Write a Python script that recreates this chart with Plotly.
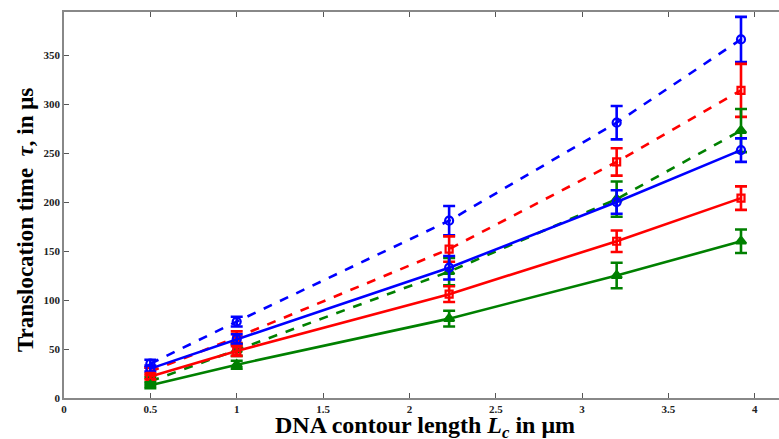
import plotly.graph_objects as go

x_vals = [0.5, 1.0, 2.23, 3.2, 3.92]

blue_dash = [35, 78, 181, 281, 366]
blue_dash_err = [4, 5, 15, 17, 23]
red_dash = [27, 62, 152, 241, 314]
red_dash_err = [4, 6, 13, 14, 27]
green_dash = [17, 49, 129, 203, 273]
green_dash_err = [4, 6, 14, 18, 22]
blue_solid = [30, 60, 133, 200, 253]
blue_solid_err = [3, 5, 12, 12, 12]
red_solid = [22, 48, 106, 160, 204]
red_solid_err = [3, 5, 8, 11, 12]
green_solid = [13, 34, 81, 125, 160]
green_solid_err = [3, 4, 8, 13, 12]

x_ticks = [0, 0.5, 1, 1.5, 2, 2.5, 3, 3.5, 4]
x_tick_text = ["0", "0.5", "1", "1.5", "2", "2.5", "3", "3.5", "4"]
y_ticks = [0, 50, 100, 150, 200, 250, 300, 350]

BLUE = "#0000FF"
RED = "#FF0000"
GREEN = "#008000"

series = [
    (blue_dash, blue_dash_err, BLUE, "dash", "circle-open", 8),
    (red_dash, red_dash_err, RED, "dash", "square-open", 7),
    (green_dash, green_dash_err, GREEN, "dash", "triangle-up", 9),
    (blue_solid, blue_solid_err, BLUE, "solid", "circle-open", 8),
    (red_solid, red_solid_err, RED, "solid", "square-open", 7),
    (green_solid, green_solid_err, GREEN, "solid", "triangle-up", 9),
]

fig = go.Figure()
for y, e, c, dash, sym, sz in series:
    fig.add_trace(go.Scatter(
        x=x_vals, y=y, mode="lines+markers",
        line=dict(color=c, width=2.6, dash=dash),
        marker=dict(symbol=sym, size=sz, color=c, line=dict(color=c, width=2.2)),
        error_y=dict(type="data", array=e, visible=True, color=c, thickness=2.6, width=6),
        showlegend=False,
    ))

font_family = "Liberation Serif, Times New Roman, serif"
fig.update_layout(
    width=779, height=439,
    margin=dict(l=64, r=0, t=12, b=41, autoexpand=False),
    paper_bgcolor="white", plot_bgcolor="white",
    font=dict(family=font_family, color="black"),
    xaxis=dict(
        range=[0, 4.14], tickvals=x_ticks, ticktext=x_tick_text,
        ticks="inside", ticklen=5, tickcolor="#555555",
        showline=True, linecolor="#888888", linewidth=1.5, mirror="ticks",
        showgrid=False, zeroline=False,
        tickfont=dict(family=font_family, size=11, color="#222222", weight="bold"),
    ),
    yaxis=dict(
        range=[0, 394], tickvals=y_ticks,
        ticks="inside", ticklen=5, tickcolor="#555555",
        showline=True, linecolor="#888888", linewidth=1.5, mirror=False,
        showgrid=False, zeroline=False,
        tickfont=dict(family=font_family, size=11, color="#222222", weight="bold"),
    ),
    annotations=[
        dict(
            text="<b>Translocation time  <i>τ</i>, in μs</b>",
            xref="paper", yref="paper", x=-0.0545, y=0.461,
            xanchor="center", yanchor="middle", textangle=-90, showarrow=False,
            font=dict(family=font_family, size=23, color="black"),
        ),
        dict(
            text="<b>DNA contour length <i>L<sub>c</sub></i> in μm</b>",
            xref="paper", yref="paper", x=0.505, y=-0.076,
            xanchor="center", yanchor="middle", showarrow=False,
            font=dict(family=font_family, size=24, color="black"),
        ),
    ],
)

fig.write_html(
    "out.html",
    config={"displayModeBar": False},
    post_script="document.body.style.margin='0';document.body.style.overflow='hidden';",
)
